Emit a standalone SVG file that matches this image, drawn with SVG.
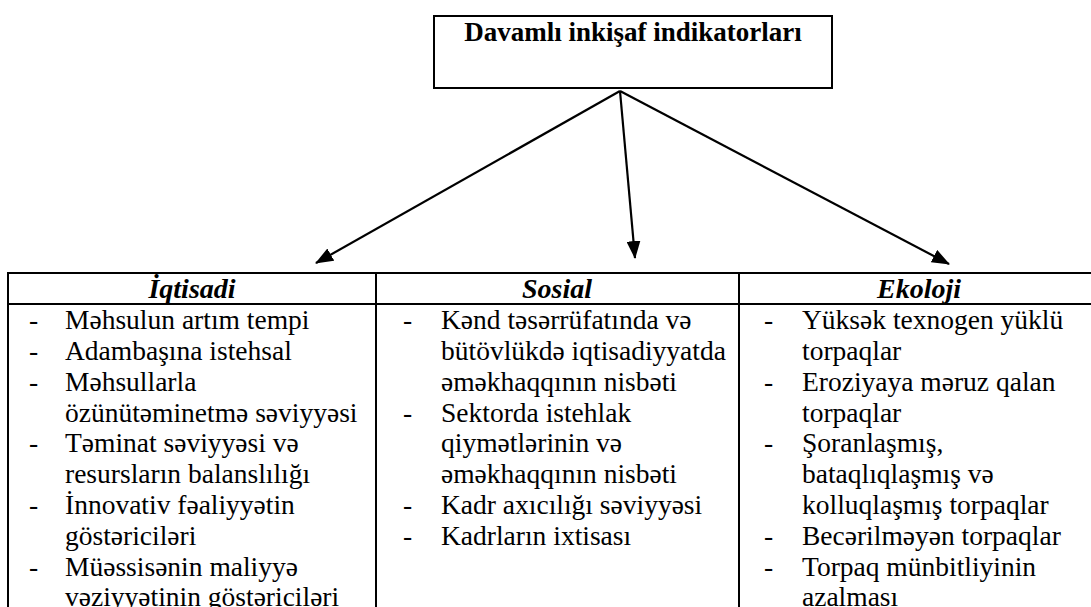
<svg xmlns="http://www.w3.org/2000/svg" width="1091" height="607" viewBox="0 0 1091 607">
<style>
text{font-family:"Liberation Serif","Times New Roman",serif;fill:#000}
.t{font-size:27px;font-weight:bold}
.h{font-size:28px;font-weight:bold;font-style:italic}
.b{font-size:27.5px}
.ln{stroke:#000;stroke-width:2;fill:none}
.ar{stroke:#000;stroke-width:2.2;fill:none;marker-end:url(#ah)}
</style>
<defs>
<marker id="ah" markerUnits="userSpaceOnUse" markerWidth="18" markerHeight="14" refX="17" refY="7" orient="auto" viewBox="0 0 18 14">
<path d="M0,0 L18,7 L0,14 z" fill="#000"/>
</marker>
</defs>
<rect width="1091" height="607" fill="#fff"/>
<g id="root">
<rect class="ln" x="434" y="16" width="398" height="72"/>
<text class="t" x="633" y="41" text-anchor="middle">Davamlı inkişaf indikatorları</text>
</g>
<g id="connectors">
<line class="ar" x1="620" y1="91" x2="316" y2="263"/>
<line class="ar" x1="620" y1="91" x2="635" y2="258"/>
<line class="ar" x1="620" y1="91" x2="949" y2="264"/>
</g>
<g id="table">
<line class="ln" x1="8" y1="273" x2="1091" y2="273"/>
<line class="ln" x1="8" y1="304" x2="1091" y2="304"/>
<line class="ln" x1="8" y1="272" x2="8" y2="607"/>
<line class="ln" x1="376" y1="272" x2="376" y2="607"/>
<line class="ln" x1="739" y1="272" x2="739" y2="607"/>
</g>
<g id="iqtisadi">
<text class="h" x="192" y="298" text-anchor="middle">İqtisadi</text>
<g class="b">
<text x="29" y="329">-</text><text x="65" y="329">Məhsulun artım tempi</text>
<text x="29" y="360">-</text><text x="65" y="360">Adambaşına istehsal</text>
<text x="29" y="391">-</text><text x="65" y="391">Məhsullarla</text>
<text x="65" y="422">özünütəminetmə səviyyəsi</text>
<text x="29" y="452">-</text><text x="65" y="452">Təminat səviyyəsi və</text>
<text x="65" y="483">resursların balanslılığı</text>
<text x="29" y="514">-</text><text x="65" y="514">İnnovativ fəaliyyətin</text>
<text x="65" y="545">göstəriciləri</text>
<text x="29" y="576">-</text><text x="65" y="576">Müəssisənin maliyyə</text>
<text x="65" y="606">vəziyyətinin göstəriciləri</text>
</g>
</g>
<g id="sosial">
<text class="h" x="557" y="298" text-anchor="middle">Sosial</text>
<g class="b">
<text x="403" y="329">-</text><text x="441" y="329">Kənd təsərrüfatında və</text>
<text x="441" y="360">bütövlükdə iqtisadiyyatda</text>
<text x="441" y="391">əməkhaqqının nisbəti</text>
<text x="403" y="422">-</text><text x="441" y="422">Sektorda istehlak</text>
<text x="441" y="452">qiymətlərinin və</text>
<text x="441" y="483">əməkhaqqının nisbəti</text>
<text x="403" y="514">-</text><text x="441" y="514">Kadr axıcılığı səviyyəsi</text>
<text x="403" y="545">-</text><text x="441" y="545">Kadrların ixtisası</text>
</g>
</g>
<g id="ekoloji">
<text class="h" x="919" y="298" text-anchor="middle">Ekoloji</text>
<g class="b">
<text x="764" y="329">-</text><text x="802" y="329">Yüksək texnogen yüklü</text>
<text x="802" y="360">torpaqlar</text>
<text x="764" y="391">-</text><text x="802" y="391">Eroziyaya məruz qalan</text>
<text x="802" y="422">torpaqlar</text>
<text x="764" y="452">-</text><text x="802" y="452">Şoranlaşmış,</text>
<text x="802" y="483">bataqlıqlaşmış və</text>
<text x="802" y="514">kolluqlaşmış torpaqlar</text>
<text x="764" y="545">-</text><text x="802" y="545">Becərilməyən torpaqlar</text>
<text x="764" y="576">-</text><text x="802" y="576">Torpaq münbitliyinin</text>
<text x="802" y="606">azalması</text>
</g>
</g>
</svg>
